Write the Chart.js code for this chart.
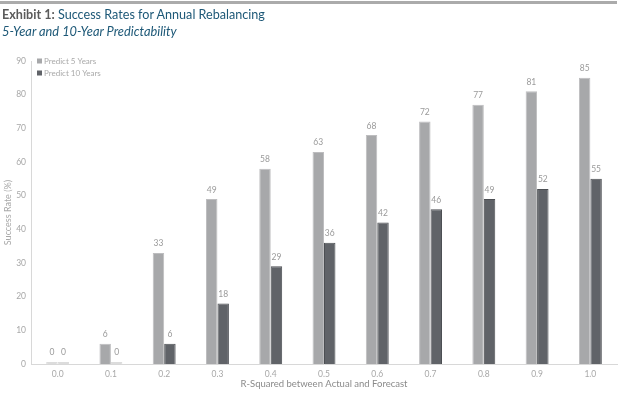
<!DOCTYPE html>
<html>
<head>
<meta charset="utf-8">
<script src="https://cdn.jsdelivr.net/npm/chart.js@4.4.1/dist/chart.umd.min.js"></script>
<style>
    body { margin: 0; background: #fff; font-family: Lato, "Noto Sans", sans-serif; }
    #wrap { position: relative; width: 620px; height: 399px; overflow: hidden; }
    #topline { position: absolute; left: 0; top: 1px; width: 617px; height: 3px; background: #ababab; }
    #title { position: absolute; left: 2px; top: 7px; font-size: 12.6px; line-height: 16px; color: #1d5877; white-space: nowrap; }
    #title b { color: #5b5b5b; }
    #subtitle { position: absolute; left: 2px; top: 23px; font-size: 12.8px; line-height: 16px; font-style: italic; color: #1d5877; white-space: nowrap; }
    canvas { position: absolute; left: 0; top: 0; }
</style>
</head>
<body>
<div id="wrap">
    <canvas id="chart" width="620" height="399"></canvas>
    <div id="topline"></div>
    <div id="title"><b>Exhibit 1:</b> Success Rates for Annual Rebalancing</div>
    <div id="subtitle">5-Year and 10-Year Predictability</div>
</div>
<script>
// Chart data
const categories = ['0.0', '0.1', '0.2', '0.3', '0.4', '0.5', '0.6', '0.7', '0.8', '0.9', '1.0'];
const predict5 = [0, 6, 33, 49, 58, 63, 68, 72, 77, 81, 85];
const predict10 = [0, 0, 6, 18, 29, 36, 42, 46, 49, 52, 55];
const yTicks = [0, 10, 20, 30, 40, 50, 60, 70, 80, 90];

const tickColor = '#a8a8a8';
const fontFamily = 'Lato, "Noto Sans", sans-serif';

/**
 * Draw value labels above each bar
 */
const valueLabels = {
    id: 'valueLabels',
    afterDatasetsDraw(chart) {
        const ctx = chart.ctx;
        ctx.save();
        ctx.fillStyle = '#9a9a9a';
        ctx.font = '8.5px ' + fontFamily;
        ctx.textAlign = 'center';
        ctx.textBaseline = 'bottom';
        chart.data.datasets.forEach((ds, i) => {
            chart.getDatasetMeta(i).data.forEach((bar, j) => {
                ctx.fillText(ds.data[j], bar.x, bar.y - 5);
            });
        });
        ctx.restore();
    }
};

/**
 * Legend drawn inside the top-left of the plot area
 */
const innerLegend = {
    id: 'innerLegend',
    afterDraw(chart) {
        const ctx = chart.ctx;
        const left = chart.chartArea.left + 6;
        let y = chart.chartArea.top;
        ctx.save();
        ctx.font = '8px ' + fontFamily;
        ctx.textBaseline = 'middle';
        chart.data.datasets.forEach((ds, i) => {
            ctx.fillStyle = i === 0 ? '#a7a8aa' : '#606368';
            ctx.fillRect(left, y - 2.5, 5, 5);
            ctx.fillStyle = '#a9a9a9';
            ctx.fillText(ds.label, left + 7, y);
            y += 12;
        });
        ctx.restore();
    }
};

// zero-height bars show as a faint grey stub
function barFill(color) {
    return ctx => ctx.raw === 0 ? '#dcdcdc' : color;
}

new Chart(document.getElementById('chart').getContext('2d'), {
    type: 'bar',
    data: {
        labels: categories,
        datasets: [{
            label: 'Predict 5 Years',
            data: predict5,
            backgroundColor: barFill('#a7a8aa'),
            borderColor: barFill('#bdbdbf'),
            borderWidth: 1,
            minBarLength: 2
        }, {
            label: 'Predict 10 Years',
            data: predict10,
            backgroundColor: barFill('#606368'),
            borderColor: barFill('#4c4f53'),
            borderWidth: 1,
            minBarLength: 2
        }]
    },
    options: {
        responsive: false,
        animation: false,
        datasets: {
            bar: {
                categoryPercentage: 0.43,
                barPercentage: 1.0
            }
        },
        layout: {
            padding: { top: 61, right: 3, left: 0, bottom: 0 }
        },
        plugins: {
            legend: { display: false },
            tooltip: { enabled: false }
        },
        scales: {
            x: {
                grid: { display: false, tickLength: 0 },
                border: { color: '#d8d8d8', width: 1 },
                ticks: {
                    color: tickColor,
                    font: { size: 8.5, family: fontFamily },
                    padding: 5
                },
                title: {
                    display: true,
                    text: 'R-Squared between Actual and Forecast',
                    color: '#8a8a8a',
                    font: { size: 9.5, family: fontFamily },
                    padding: { top: 0, bottom: 9 }
                },
                afterFit(scale) {
                    scale.height = 35;
                }
            },
            y: {
                min: 0,
                max: 90,
                grid: { display: false, tickLength: 0 },
                border: { color: '#d8d8d8', width: 1 },
                afterBuildTicks(scale) {
                    scale.ticks = yTicks.map(v => ({ value: v }));
                },
                ticks: {
                    color: tickColor,
                    font: { size: 8.5, family: fontFamily },
                    padding: 5
                },
                title: {
                    display: true,
                    text: 'Success Rate (%)',
                    color: '#a8a8a8',
                    font: { size: 9, family: fontFamily },
                    padding: { top: 3, bottom: 0 }
                },
                afterFit(scale) {
                    scale.width = 31;
                }
            }
        }
    },
    plugins: [valueLabels, innerLegend]
});
</script>
</body>
</html>
